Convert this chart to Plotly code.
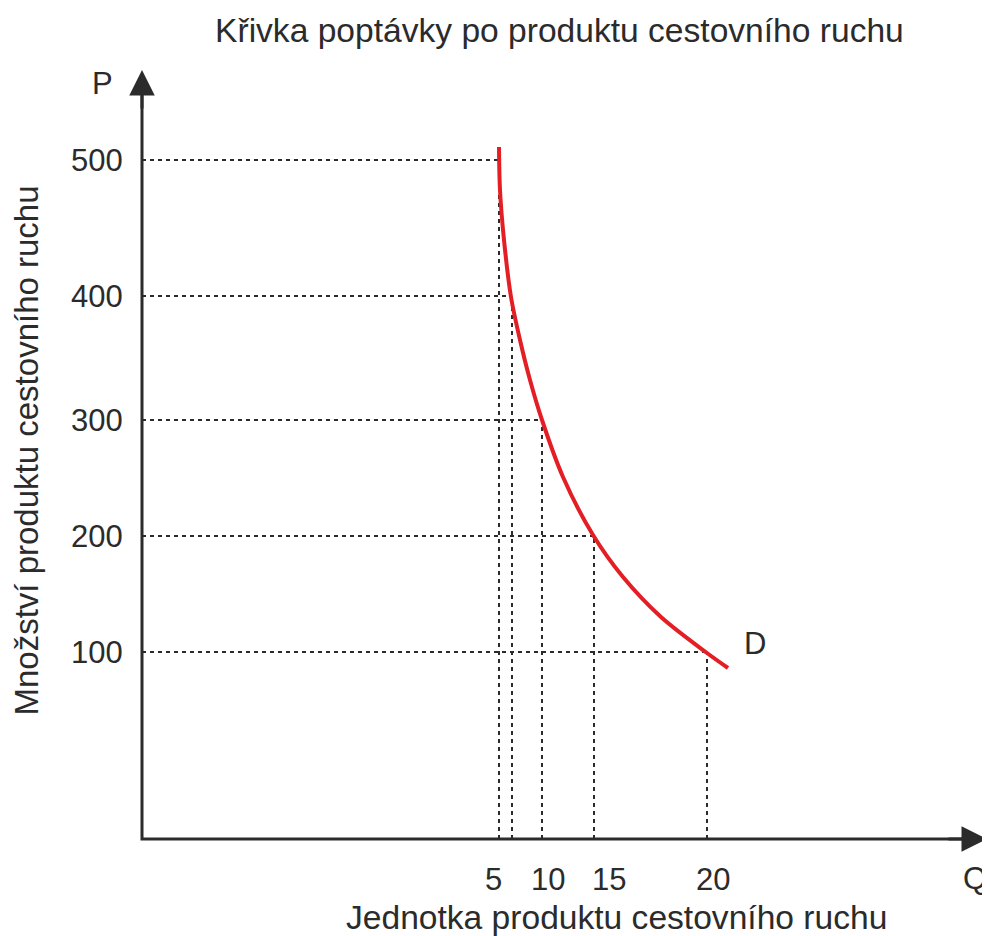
import plotly.graph_objects as go

# schematický diagram - osy nejsou v měřítku, polohy jsou
q_labels = ['5', '10', '15', '20']
q_pos = [357, 400, 452, 565]
p_labels = ['100', '200', '300', '400', '500']
p_pos = [187, 303, 419, 543, 679]

# body na křivce, ke kterým vedou vodicí čáry
guide_q = [357, 370, 400, 452, 565]
guide_p = [679, 543, 419, 303, 187]

# křivka poptávky D
curve_q = [357, 358, 362, 369, 378, 388, 400, 421, 451, 481, 519, 565, 586]
curve_p = [692, 649, 599, 542, 499, 459, 419, 362, 304, 262, 222, 186, 171]

q_end = 845
p_end = 769

FONT = 'Liberation Sans, Arial, sans-serif'
INK = '#2b2b2b'

fig = go.Figure()

# vodicí čárkované čáry
hx, hy, vx, vy = [], [], [], []
for q, p in zip(guide_q, guide_p):
    hx += [0, q, None]
    hy += [p, p, None]
    vx += [q, q, None]
    vy += [0, p, None]
fig.add_trace(go.Scatter(x=hx + vx, y=hy + vy, mode='lines',
                         line=dict(color=INK, width=2, dash='4px,4px'),
                         hoverinfo='skip', showlegend=False))

# křivka
fig.add_trace(go.Scatter(x=curve_q, y=curve_p, mode='lines',
                         line=dict(color='#e31e25', width=4, shape='spline', smoothing=0.9),
                         showlegend=False))

# osy
fig.add_trace(go.Scatter(x=[0, 0, q_end - 20], y=[p_end - 20, 0, 0], mode='lines',
                         line=dict(color=INK, width=3), hoverinfo='skip', showlegend=False))

ann = []
# hroty šipek
ann.append(dict(x=q_end, y=0, ax=q_end - 40, ay=0, xref='x', yref='y', axref='x', ayref='y',
                text='', showarrow=True, arrowhead=2, arrowsize=1.7, arrowwidth=3,
                arrowcolor=INK, standoff=0))
ann.append(dict(x=0, y=p_end, ax=0, ay=p_end - 40, xref='x', yref='y', axref='x', ayref='y',
                text='', showarrow=True, arrowhead=2, arrowsize=1.7, arrowwidth=3,
                arrowcolor=INK, standoff=0))

tick_font = dict(family=FONT, size=31, color=INK)
label_font = dict(family=FONT, size=33.6, color=INK)
for lab, p in zip(p_labels, p_pos):
    ann.append(dict(x=0, y=p, xref='x', yref='y', text=lab, showarrow=False,
                    xanchor='right', yanchor='middle', xshift=-17, font=tick_font))
q_shift = [-6, 6, 15, 6]
for lab, q, s in zip(q_labels, q_pos, q_shift):
    ann.append(dict(x=q, y=0, xref='x', yref='y', text=lab, showarrow=False,
                    xanchor='center', yanchor='middle', xshift=s, yshift=-40, font=tick_font))

ann.append(dict(x=-40, y=756, xref='x', yref='y', text='P', showarrow=False, font=tick_font))
ann.append(dict(x=833, y=-39, xref='x', yref='y', text='Q', showarrow=False, font=tick_font))
ann.append(dict(x=613, y=196, xref='x', yref='y', text='D', showarrow=False, font=tick_font))

ann.append(dict(x=0.615, y=0.028, xref='paper', yref='paper', showarrow=False,
                text='Jednotka produktu cestovního ruchu', font=label_font,
                xanchor='center', yanchor='middle'))
ann.append(dict(x=0.019, y=0.527, xref='paper', yref='paper', showarrow=False,
                text='Množství produktu cestovního ruchu', font=dict(family=FONT, size=33, color=INK),
                textangle=-90, xanchor='center', yanchor='middle'))

fig.update_layout(
    width=990, height=936,
    margin=dict(l=0, r=0, t=0, b=0),
    paper_bgcolor='white', plot_bgcolor='white',
    title=dict(text='Křivka poptávky po produktu cestovního ruchu', x=0.557, y=0.976,
               xanchor='center', yanchor='middle', font=label_font),
    xaxis=dict(range=[-134, 856], visible=False, fixedrange=True),
    yaxis=dict(range=[-105, 831], visible=False, fixedrange=True),
    annotations=ann,
)

fig.write_html('out.html')
